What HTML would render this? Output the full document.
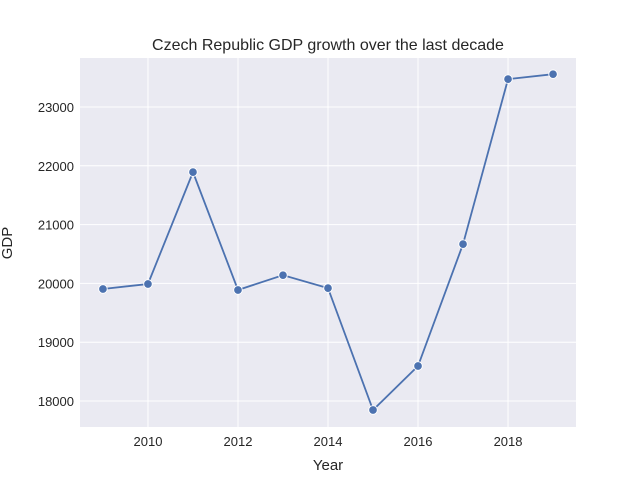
<!DOCTYPE html>
<html><head><meta charset="utf-8"><style>body{margin:0;background:#fff}svg{display:block;font-family:"Liberation Sans","DejaVu Sans",sans-serif}</style></head>
<body>
<svg id="c" width="640" height="480"></svg>
<script>
const years=[2009,2010,2011,2012,2013,2014,2015,2016,2017,2018,2019];
const gdp=[19905,19990,21892,19888,20140,19920,17847,18595,20668,23474,23558];
const xTicks=[2010,2012,2014,2016,2018];
const yTicks=[18000,19000,20000,21000,22000,23000];
const L=80,R=576,T=58,B=427,xMin=2008.49,xMax=2019.51,yMin=17558,yMax=23833;
const sx=v=>L+(v-xMin)/(xMax-xMin)*(R-L);
const sy=v=>B-(v-yMin)/(yMax-yMin)*(B-T);
const svg=document.getElementById('c');const NS='http://www.w3.org/2000/svg';
function mk(t,a,p){const e=document.createElementNS(NS,t);for(const k in a)e.setAttribute(k,a[k]);(p||svg).appendChild(e);return e;}
let bg=mk('rect',{x:L,y:T,width:R-L,height:B-T,fill:'#eaeaf2'});


xTicks.forEach(v=>{const g=mk('line',{x1:sx(v),x2:sx(v),y1:T,y2:B,stroke:'#fff','stroke-width':1});


const t=mk('text',{x:sx(v),y:B+19,'text-anchor':'middle','font-size':13,fill:'#262626'});t.textContent=v;

});
yTicks.forEach(v=>{const g=mk('line',{x1:L,x2:R,y1:sy(v),y2:sy(v),stroke:'#fff','stroke-width':1});


const t=mk('text',{x:L-6,y:sy(v)+5,'text-anchor':'end','font-size':13,fill:'#262626'});t.textContent=v;

});
const line=mk('polyline',{points:years.map((y,i)=>sx(y)+','+sy(gdp[i])).join(' '),fill:'none',stroke:'#4c72b0','stroke-width':1.8});


years.forEach((y,i)=>{const c=mk('circle',{cx:sx(y),cy:sy(gdp[i]),r:4.3,fill:'#4c72b0',stroke:'#fff','stroke-width':0.9});

});
let t=mk('text',{x:328,y:50,'text-anchor':'middle','font-size':16,fill:'#262626'});t.textContent='Czech Republic GDP growth over the last decade';


t=mk('text',{x:328,y:470,'text-anchor':'middle','font-size':15,fill:'#262626'});t.textContent='Year';


t=mk('text',{x:12,y:243,'text-anchor':'middle','font-size':15,fill:'#262626',transform:'rotate(-90 12 243)'});t.textContent='GDP';


</script>
</body></html>
